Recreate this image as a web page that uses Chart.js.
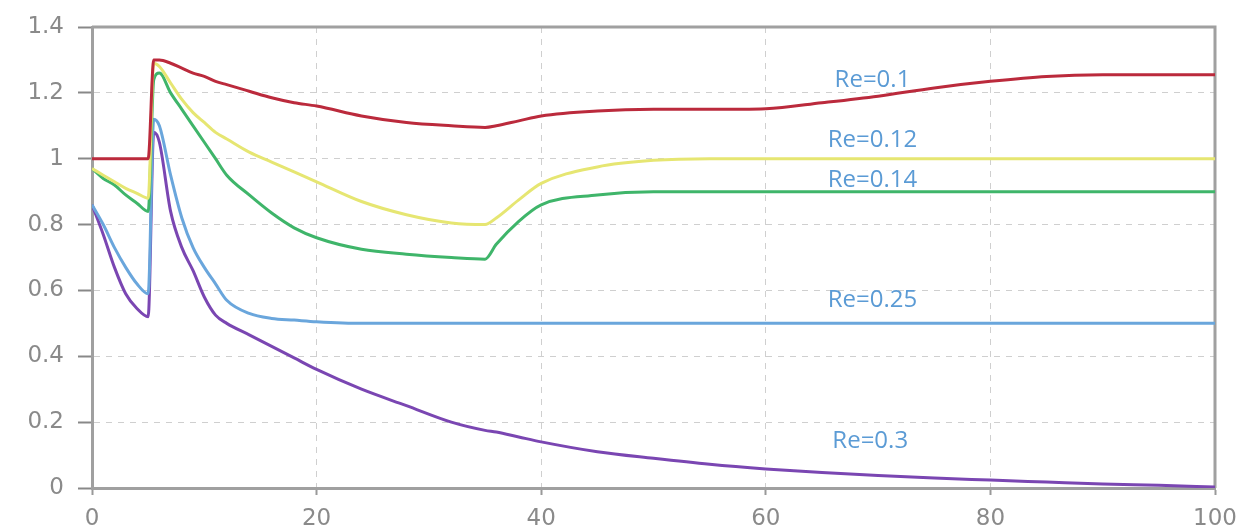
<!DOCTYPE html>
<html>
<head>
<meta charset="utf-8">
<script src="https://cdn.jsdelivr.net/npm/chart.js@4.4.0/dist/chart.umd.min.js"></script>
<style>
  body { margin: 0; background: #fff; }
  #wrap { width: 1237px; height: 528px; }
</style>
</head>
<body>
<div id="wrap"><canvas id="lineChart" width="1237" height="528"></canvas></div>
<script>
// x positions shared by all curves
var xs = [0, 1, 2, 3, 4, 5, 5.5, 6, 7, 8, 9, 10, 11, 12, 14, 16, 18, 20, 24, 28, 32, 35, 36, 38, 40, 45, 50, 55, 60, 65, 70, 75, 80, 85, 90, 95, 100];

var re010 = [1, 1, 1, 1, 1, 1, 1.30, 1.30, 1.29, 1.275, 1.26, 1.25, 1.235, 1.225, 1.205, 1.185, 1.17, 1.16, 1.13, 1.11, 1.10, 1.095, 1.10, 1.115, 1.13, 1.145, 1.15, 1.15, 1.152, 1.17, 1.19, 1.215, 1.235, 1.25, 1.255, 1.255, 1.255];
var re012 = [0.97, 0.95, 0.93, 0.91, 0.895, 0.88, 1.29, 1.28, 1.23, 1.18, 1.14, 1.11, 1.08, 1.06, 1.02, 0.99, 0.96, 0.93, 0.87, 0.83, 0.805, 0.80, 0.82, 0.875, 0.925, 0.975, 0.995, 1.0, 1.0, 1.0, 1.0, 1.0, 1.0, 1.0, 1.0, 1.0, 1.0];
var re014 = [0.97, 0.94, 0.92, 0.89, 0.865, 0.84, 1.24, 1.26, 1.20, 1.15, 1.10, 1.05, 1.0, 0.95, 0.89, 0.835, 0.79, 0.76, 0.725, 0.71, 0.70, 0.695, 0.74, 0.81, 0.86, 0.89, 0.90, 0.90, 0.90, 0.90, 0.90, 0.90, 0.90, 0.90, 0.90, 0.90, 0.90];
var re025 = [0.86, 0.80, 0.73, 0.67, 0.62, 0.59, 1.12, 1.10, 0.95, 0.82, 0.73, 0.67, 0.62, 0.57, 0.53, 0.515, 0.51, 0.505, 0.5, 0.5, 0.5, 0.5, 0.5, 0.5, 0.5, 0.5, 0.5, 0.5, 0.5, 0.5, 0.5, 0.5, 0.5, 0.5, 0.5, 0.5, 0.5];
var re030 = [0.86, 0.77, 0.67, 0.59, 0.545, 0.52, 1.08, 1.05, 0.84, 0.73, 0.66, 0.58, 0.525, 0.50, 0.465, 0.43, 0.395, 0.36, 0.30, 0.25, 0.20, 0.175, 0.17, 0.155, 0.14, 0.11, 0.09, 0.072, 0.058, 0.047, 0.038, 0.03, 0.024, 0.018, 0.012, 0.008, 0.003];

var seriesNames = ['Re=0.1', 'Re=0.12', 'Re=0.14', 'Re=0.25', 'Re=0.3'];
var xTicks = [0, 20, 40, 60, 80, 100];
var yTicks = [0, 0.2, 0.4, 0.6, 0.8, 1, 1.2, 1.4];

// where the curve names sit (data units)
var labelX = [69.5, 69.5, 69.5, 69.5, 69.3];
var labelY = [1.239, 1.057, 0.935, 0.571, 0.143];

var colors = ['#bb2a3c', '#e6e672', '#3fb56a', '#6aa6dc', '#7a46b2'];

function pts(ys) {
    return xs.map(function(x, i) { return { x: x, y: ys[i] }; });
}

var allSeries = [re010, re012, re014, re025, re030];
var datasets = allSeries.map(function(ys, i) {
    return {
        label: seriesNames[i],
        data: pts(ys),
        borderColor: colors[i],
        borderWidth: 3,
        pointRadius: 0,
        fill: false,
        cubicInterpolationMode: 'monotone'
    };
});

// frame round the plot + curve names
var framePlugin = {
    id: 'frame',
    beforeDatasetsDraw: function(chart) {
        var a = chart.chartArea, ctx = chart.ctx;
        ctx.save();
        ctx.strokeStyle = '#a0a0a0';
        ctx.lineWidth = 3;
        ctx.beginPath();
        ctx.moveTo(a.left, a.top);
        ctx.lineTo(a.right, a.top);
        ctx.lineTo(a.right, a.bottom);
        ctx.stroke();
        ctx.restore();
    },
    afterDatasetsDraw: function(chart) {
        var ctx = chart.ctx, sx = chart.scales.x, sy = chart.scales.y;
        ctx.save();
        ctx.font = '24px "Open Sans"';
        ctx.fillStyle = '#5b9bd5';
        ctx.textAlign = 'center';
        ctx.textBaseline = 'middle';
        seriesNames.forEach(function(name, i) {
            ctx.fillText(name, sx.getPixelForValue(labelX[i]), sy.getPixelForValue(labelY[i]));
        });
        ctx.restore();
    }
};

var tickFont = { family: 'DejaVu Sans', size: 23 };

var ctx = document.getElementById('lineChart').getContext('2d');
var lineChart = new Chart(ctx, {
    type: 'line',
    data: { datasets: datasets },
    plugins: [framePlugin],
    options: {
        responsive: false,
        animation: false,
        layout: { padding: { top: 27, right: 22, left: 0, bottom: 0 } },
        plugins: { legend: { display: false }, tooltip: { enabled: false } },
        scales: {
            x: {
                type: 'linear',
                min: 0,
                max: 100,
                afterBuildTicks: function(s) { s.ticks = xTicks.map(function(v) { return { value: v }; }); },
                afterFit: function(s) { s.height = 40; s.paddingLeft = 0; s.paddingRight = 0; },
                grid: { color: '#cfcfcf', lineWidth: 1, tickColor: '#999', tickLength: 7, tickWidth: 2 },
                border: { color: '#a0a0a0', width: 3, dash: [6, 6] },
                ticks: { color: '#8a8a8a', font: tickFont, padding: 10, maxRotation: 0 }
            },
            y: {
                min: 0,
                max: 1.4,
                afterBuildTicks: function(s) { s.ticks = yTicks.map(function(v) { return { value: v }; }); },
                afterFit: function(s) { s.width = 92; s.paddingTop = 0; s.paddingBottom = 0; },
                grid: { color: '#cfcfcf', lineWidth: 1, tickColor: '#888', tickLength: 14, tickWidth: 2 },
                border: { color: '#a0a0a0', width: 3, dash: [6, 6] },
                ticks: {
                    color: '#8a8a8a', font: tickFont, padding: 14,
                    callback: function(v) { return String(+v.toFixed(1)); }
                }
            }
        }
    }
});
</script>
</body>
</html>
